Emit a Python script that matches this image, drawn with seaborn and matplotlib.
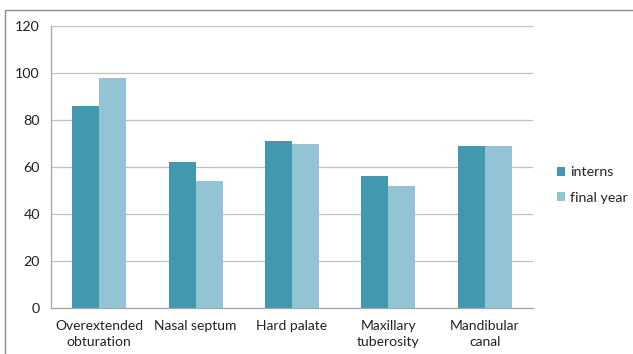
import matplotlib
matplotlib.use("Agg")
import matplotlib.pyplot as plt
import seaborn as sns
import pandas as pd
from matplotlib.patches import Rectangle

categories = ["Overextended\nobturation", "Nasal septum", "Hard palate",
              "Maxillary\ntuberosity", "Mandibular\ncanal"]
interns = [86, 62, 71, 56, 69]
final_year = [98, 54, 70, 52, 68.8]
series_names = ["interns", "final year"]
y_ticks = [0, 20, 40, 60, 80, 100, 120]

df = pd.DataFrame({
    "category": categories * 2,
    "value": interns + final_year,
    "group": [series_names[0]] * len(categories) + [series_names[1]] * len(categories),
})

sns.set_theme(style="white")
plt.rcParams["font.family"] = ["Lato", "DejaVu Sans"]

fig = plt.figure(figsize=(6.33, 3.54), dpi=100)
ax = fig.add_axes([51 / 633, 1 - 308 / 354, (533 - 51) / 633, (308 - 26) / 354])

palette = {"interns": "#4198AF", "final year": "#93C4D6"}
sns.barplot(data=df, x="category", y="value", hue="group", palette=palette,
            width=0.56, gap=0, saturation=1, ax=ax, edgecolor="none")

ax.set_ylim(0, 120)
ax.set_xlim(-0.5, len(categories) - 0.5)
ax.set_yticks(y_ticks)
ax.set_yticklabels([str(t) for t in y_ticks], fontsize=10.3, color="#222222")
ax.set_xlabel("")
ax.set_ylabel("")
ax.yaxis.grid(True, color="#C0C0C0", linewidth=0.9)
ax.set_axisbelow(True)

# Category labels centred, ticks at category boundaries
ax.set_xticks(range(len(categories)))
ax.set_xticklabels(categories, fontsize=10, color="#222222", linespacing=1.3)
ax.tick_params(axis="x", length=0, pad=9)
ax.set_xticks([i - 0.5 for i in range(len(categories) + 1)], minor=True)
ax.tick_params(axis="x", which="minor", length=4, color="#A6A6A6", width=0.9, direction="out")
ax.tick_params(axis="y", length=4, color="#A6A6A6", width=0.9, direction="out", pad=4)

for side in ["top", "right"]:
    ax.spines[side].set_visible(False)
for side in ["left", "bottom"]:
    ax.spines[side].set_color("#A6A6A6")
    ax.spines[side].set_linewidth(0.9)

handles, labels = ax.get_legend_handles_labels()
ax.legend(handles, labels, loc="center left", bbox_to_anchor=(544 / 633, 1 - 185 / 354),
          bbox_transform=fig.transFigure, frameon=False, fontsize=10.3,
          handlelength=0.6, handleheight=0.6, handletextpad=0.3, labelspacing=0.95)

# Outer chart frame
fig.patches.append(Rectangle((5 / 633, -0.1), 1.2, 1 - 10 / 354 + 0.1,
                             transform=fig.transFigure, fill=False,
                             edgecolor="#8C8C8C", linewidth=1.0))

fig.savefig("out.png", dpi=100)
